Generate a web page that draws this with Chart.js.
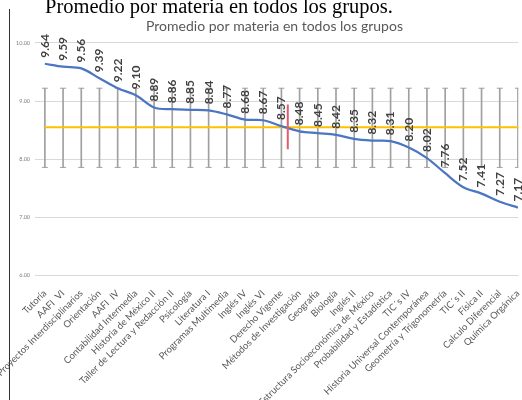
<!DOCTYPE html>
<html lang="es">
<head>
<meta charset="utf-8">
<title>Promedio por materia</title>
<script src="https://cdn.jsdelivr.net/npm/chart.js@4.4.1/dist/chart.umd.min.js"></script>
<style>
  html, body { margin: 0; padding: 0; background: #fff; width: 522px; height: 400px; overflow: hidden; }
  #grafica { position: absolute; left: 0; top: 0; }
  #encabezado {
    position: absolute; left: 45px; top: -4px;
    font: 20.5px/20.5px "Liberation Serif", "Times New Roman", serif;
    color: #000; white-space: nowrap;
  }
  #marco { position: absolute; left: 9px; top: 9px; height: 400px; border-left: 1.5px solid #333; }
</style>
</head>
<body>
<canvas id="grafica" width="538" height="420"></canvas>
<div id="marco"></div>
<div id="encabezado">Promedio por materia en todos los grupos.</div>

<script>
// materias ordenadas de mayor a menor promedio
const materias = [
  'Tutoría', 'AAFI  VI', 'Proyectos Interdisciplinarios', 'Orientación', 'AAFI  IV',
  'Contabilidad Intermedia', 'Historia de México II', 'Taller de Lectura y Redacción II',
  'Psicología', 'Literatura I', 'Programas Multimedia', 'Inglés IV', 'Inglés VI',
  'Derecho Vigente', 'Métodos de Investigación', 'Geografía', 'Biología', 'Inglés II',
  'Estructura Socioeconómica de México', 'Probabilidad y Estadística', 'TIC´s IV',
  'Historia Universal Contemporánea', 'Geometría y Trigonometría', 'TIC´s II',
  'Física II', 'Calculo Diferencial', 'Química Orgánica'
];
const promedios = [
  9.64, 9.59, 9.56, 9.39, 9.22, 9.10, 8.89, 8.86, 8.85, 8.84, 8.77, 8.68, 8.67,
  8.57, 8.48, 8.45, 8.42, 8.35, 8.32, 8.31, 8.20, 8.02, 7.76, 7.52, 7.41, 7.27, 7.17
];

// promedio general y su desviación (barras grises)
const promedioGeneral = 8.55;
const limiteSuperior = 9.22;
const limiteInferior = 7.86;

// marca roja vertical
const marcaX = 13.35;
const marcaRango = [8.17, 8.94];

const ticksY = [6, 7, 8, 9, 10];

const ultimo = materias.length - 1;

// etiquetas verticales con el valor encima de cada punto
const etiquetasVerticales = {
  id: 'etiquetasVerticales',
  afterDatasetsDraw(chart) {
    const meta = chart.getDatasetMeta(0);
    const ctx = chart.ctx;
    ctx.save();
    ctx.font = 'bold 12px Lato';
    ctx.fillStyle = '#404040';
    ctx.textAlign = 'left';
    ctx.textBaseline = 'middle';
    meta.data.forEach((pt, i) => {
      ctx.save();
      ctx.translate(pt.x, pt.y - 6);
      ctx.rotate(-Math.PI / 2);
      ctx.fillText(promedios[i].toFixed(2), 0, 0);
      ctx.restore();
    });
    ctx.restore();
  }
};

const ctx = document.getElementById('grafica').getContext('2d');

new Chart(ctx, {
  data: {
    datasets: [
      {
        type: 'line',
        label: 'Promedio',
        data: promedios.map((v, i) => ({ x: i, y: v })),
        borderColor: '#4a76c2',
        borderWidth: 2.25,
        pointRadius: 0,
        tension: 0.35,
        order: 1
      },
      {
        type: 'line',
        label: 'Marca',
        data: [{ x: marcaX, y: marcaRango[0] }, { x: marcaX, y: marcaRango[1] }],
        borderColor: '#e25c6c',
        borderWidth: 2,
        pointRadius: 0,
        order: 0
      },
      {
        type: 'line',
        label: 'Promedio general',
        data: [{ x: 0, y: promedioGeneral }, { x: ultimo + 1, y: promedioGeneral }],
        borderColor: '#ffc000',
        borderWidth: 2,
        pointRadius: 0,
        order: 2
      },
      {
        type: 'line',
        label: 'Límite superior',
        data: materias.map((m, i) => ({ x: i, y: limiteSuperior })),
        showLine: false,
        pointStyle: 'line',
        pointRadius: 3,
        borderColor: '#a0a0a0',
        borderWidth: 1,
        order: 3
      },
      {
        type: 'line',
        label: 'Límite inferior',
        data: materias.map((m, i) => ({ x: i, y: limiteInferior })),
        showLine: false,
        pointStyle: 'line',
        pointRadius: 3,
        borderColor: '#a0a0a0',
        borderWidth: 1,
        order: 3
      },
      {
        type: 'bar',
        label: 'Desviación',
        data: materias.map((m, i) => ({ x: i, y: [limiteInferior, limiteSuperior] })),
        backgroundColor: '#a0a0a0',
        barThickness: 1,
        order: 4
      }
    ]
  },
  options: {
    responsive: false,
    animation: false,
    layout: { autoPadding: false, padding: { left: 11, right: 0, top: 0, bottom: 0 } },
    plugins: {
      legend: { display: false },
      tooltip: { enabled: false },
      title: {
        display: true,
        text: 'Promedio por materia en todos los grupos',
        color: '#595959',
        font: { family: 'Lato', size: 14, weight: 'normal' },
        padding: { top: 18, bottom: 8 }
      }
    },
    scales: {
      x: {
        type: 'linear',
        offset: false,
        min: -0.54,
        max: 26.02,
        grid: { display: false, drawTicks: false, offset: false },
        border: { display: false },
        // una marca por materia; los extremos quedan sin texto
        afterBuildTicks: axis => {
          axis.ticks = [{ value: axis.min }].concat(materias.map((m, i) => ({ value: i })), [{ value: axis.max }]);
        },
        ticks: {
          autoSkip: false,
          minRotation: 45,
          maxRotation: 45,
          padding: 12,
          color: '#595959',
          font: { family: 'Lato', size: 9.5 },
          callback: v => Number.isInteger(v) && materias[v] ? materias[v] : null
        }
      },
      y: {
        min: ticksY[0],
        max: ticksY[ticksY.length - 1],
        grid: { color: '#d9d9d9', drawTicks: false },
        border: { display: false },
        afterBuildTicks: axis => { axis.ticks = ticksY.map(v => ({ value: v })); },
        ticks: {
          padding: 5,
          color: '#7f7f7f',
          font: { family: 'Lato', size: 5.5 },
          callback: v => v.toFixed(2)
        }
      }
    }
  },
  plugins: [etiquetasVerticales]
});
</script>
</body>
</html>
